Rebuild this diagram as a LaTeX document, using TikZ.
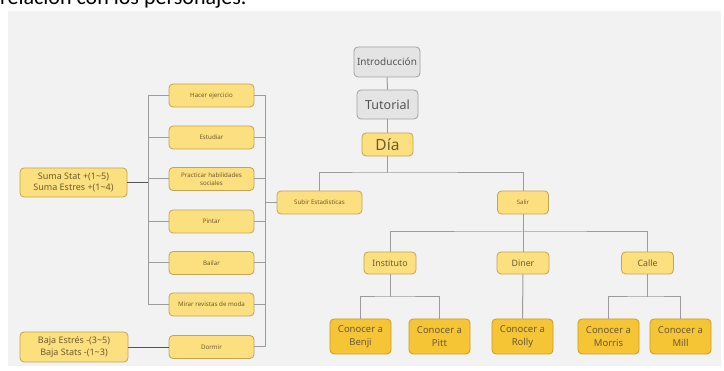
\documentclass[tikz,border=0pt]{standalone}
\usepackage{fontspec}
\setmainfont{Noto Sans}
\newfontfamily\topfont{Carlito}
\definecolor{panel}{HTML}{F2F2F2}
\definecolor{yfill}{HTML}{FCDF7E}
\definecolor{ydraw}{HTML}{C4A455}
\definecolor{ytext}{HTML}{6E5C30}
\definecolor{dfill}{HTML}{F5C535}
\definecolor{ddraw}{HTML}{C89C22}
\definecolor{dtext}{HTML}{6A5A36}
\definecolor{gfill}{HTML}{E4E4E4}
\definecolor{gdraw}{HTML}{A0A0A0}
\definecolor{gtext}{HTML}{555555}
\definecolor{lin}{HTML}{9C9C9C}
\definecolor{dlin}{HTML}{555555}
\tikzset{
  box/.style={rounded corners=4pt, line width=0.8pt, align=center, inner sep=1pt},
  gbox/.style={box, fill=gfill, draw=gdraw, text=gtext},
  ybox/.style={box, fill=yfill, draw=ydraw, text=ytext},
  dbox/.style={box, fill=dfill, draw=ddraw, text=dtext, minimum width=61pt, minimum height=35pt, font=\fontsize{9.5}{12.5}\selectfont},
  act/.style={ybox, minimum width=85pt, minimum height=23pt, font=\fontsize{6.2}{7.8}\selectfont},
  mid/.style={ybox, minimum width=52pt, minimum height=22pt, font=\fontsize{8.8}{11}\selectfont},
  conn/.style={draw=lin, line width=1pt},
  dconn/.style={draw=dlin, line width=0.8pt},
}
\begin{document}
\begin{tikzpicture}[x=1pt,y=-1pt]
\useasboundingbox (0,0) rectangle (724,371);
\clip (0,0) rectangle (724,371);
\fill[panel] (8,11) rectangle (721,366);
\node[anchor=base west, inner sep=0, font=\topfont\fontsize{22}{26}\selectfont] (title) at (0,5) {relación con los personajes.};

% top column
\node[gbox, minimum width=66pt, minimum height=30pt, font=\fontsize{10}{12}\selectfont] (intro) at (387,62) {Introducción};
\node[gbox, minimum width=61pt, minimum height=29pt, font=\fontsize{12.5}{15}\selectfont] (tut) at (387.5,104.5) {Tutorial};
\node[ybox, minimum width=51pt, minimum height=23pt, font=\fontsize{15.5}{18}\selectfont] (dia) at (387.5,144.5) {Día};
\node[act] (subir) at (319.5,202.5) {Subir Estadisticas};
\node[ybox, minimum width=51pt, minimum height=23pt, font=\fontsize{6}{7}\selectfont] (salir) at (523,202.5) {Salir};

\node[mid] (inst) at (390,263) {Instituto};
\node[mid] (diner) at (523,263) {Diner};
\node[mid] (calle) at (647.5,263) {Calle};

\node[dbox] (benji) at (360.5,336.5) {Conocer a\\Benji};
\node[dbox] (pitt) at (439.5,336.5) {Conocer a\\Pitt};
\node[dbox] (rolly) at (522.5,336.5) {Conocer a\\Rolly};
\node[dbox] (morris) at (608.5,336.5) {Conocer a\\Morris};
\node[dbox] (mill) at (680.5,336.5) {Conocer a\\Mill};

% activities
\node[act] (hacer) at (211.5,95.5) {Hacer ejercicio};
\node[act] (estud) at (211.5,137.5) {Estudiar};
\node[act] (pract) at (211.5,179) {Practicar habilidades\\sociales};
\node[act] (pint) at (211.5,221.5) {Pintar};
\node[act] (bail) at (211.5,263) {Bailar};
\node[act] (mirar) at (211.5,304.5) {Mirar revistas de moda};
\node[act] (dorm) at (211.5,347) {Dormir};

\node[ybox, minimum width=107pt, minimum height=29pt, font=\fontsize{9}{11.5}\selectfont] (suma) at (73.5,182.5) {Suma Stat +(1\textasciitilde5)\\Suma Estres +(1\textasciitilde4)};
\node[ybox, minimum width=108pt, minimum height=30pt, font=\fontsize{9}{11.5}\selectfont] (baja) at (74,347) {Baja Estrés -(3\textasciitilde5)\\Baja Stats -(1\textasciitilde3)};

% junctions
\coordinate (j1) at (387.5,173);
\coordinate (j2) at (523,232);
\coordinate (j3) at (390,297);
\coordinate (j4) at (647.5,297);
\coordinate (lt) at (148,95.5);
\coordinate (lb) at (148,304.5);
\coordinate (rt) at (265,95.5);
\coordinate (rb) at (265,347);

\draw[conn] (intro.south) -- (tut.north);
\draw[conn] (tut.south) -- (dia.north);
\draw[conn] (dia.south) -- (j1);
\draw[conn] (subir.north) |- (j1) -| (salir.north);
\draw[conn] (salir.south) -- (diner.north);
\draw[conn] (inst.north) |- (j2) -| (calle.north);
\draw[conn] (inst.south) -- (j3);
\draw[conn] (benji.north) |- (j3) -| (pitt.north);
\draw[conn] (diner.south) -- (rolly.north);
\draw[conn] (calle.south) -- (j4);
\draw[conn] (morris.north) |- (j4) -| (mill.north);

\draw[conn] (hacer.west) -- (lt) -- (lb) -- (mirar.west);
\draw[conn] (estud.west) -- (estud.west -| lt);
\draw[conn] (pract.west) -- (pract.west -| lt);
\draw[conn] (pint.west) -- (pint.west -| lt);
\draw[conn] (bail.west) -- (bail.west -| lt);
\draw[conn] (hacer.east) -- (rt) -- (rb) -- (dorm.east);
\draw[conn] (estud.east) -- (estud.east -| rt);
\draw[conn] (pract.east) -- (pract.east -| rt);
\draw[conn] (pint.east) -- (pint.east -| rt);
\draw[conn] (bail.east) -- (bail.east -| rt);
\draw[conn] (mirar.east) -- (mirar.east -| rt);
\draw[conn] (subir.west) -- (subir.west -| rt);
\draw[dconn] (suma.east) -- (suma.east -| lt);
\draw[dconn] (baja.east) -- (dorm.west);
\end{tikzpicture}
\end{document}
